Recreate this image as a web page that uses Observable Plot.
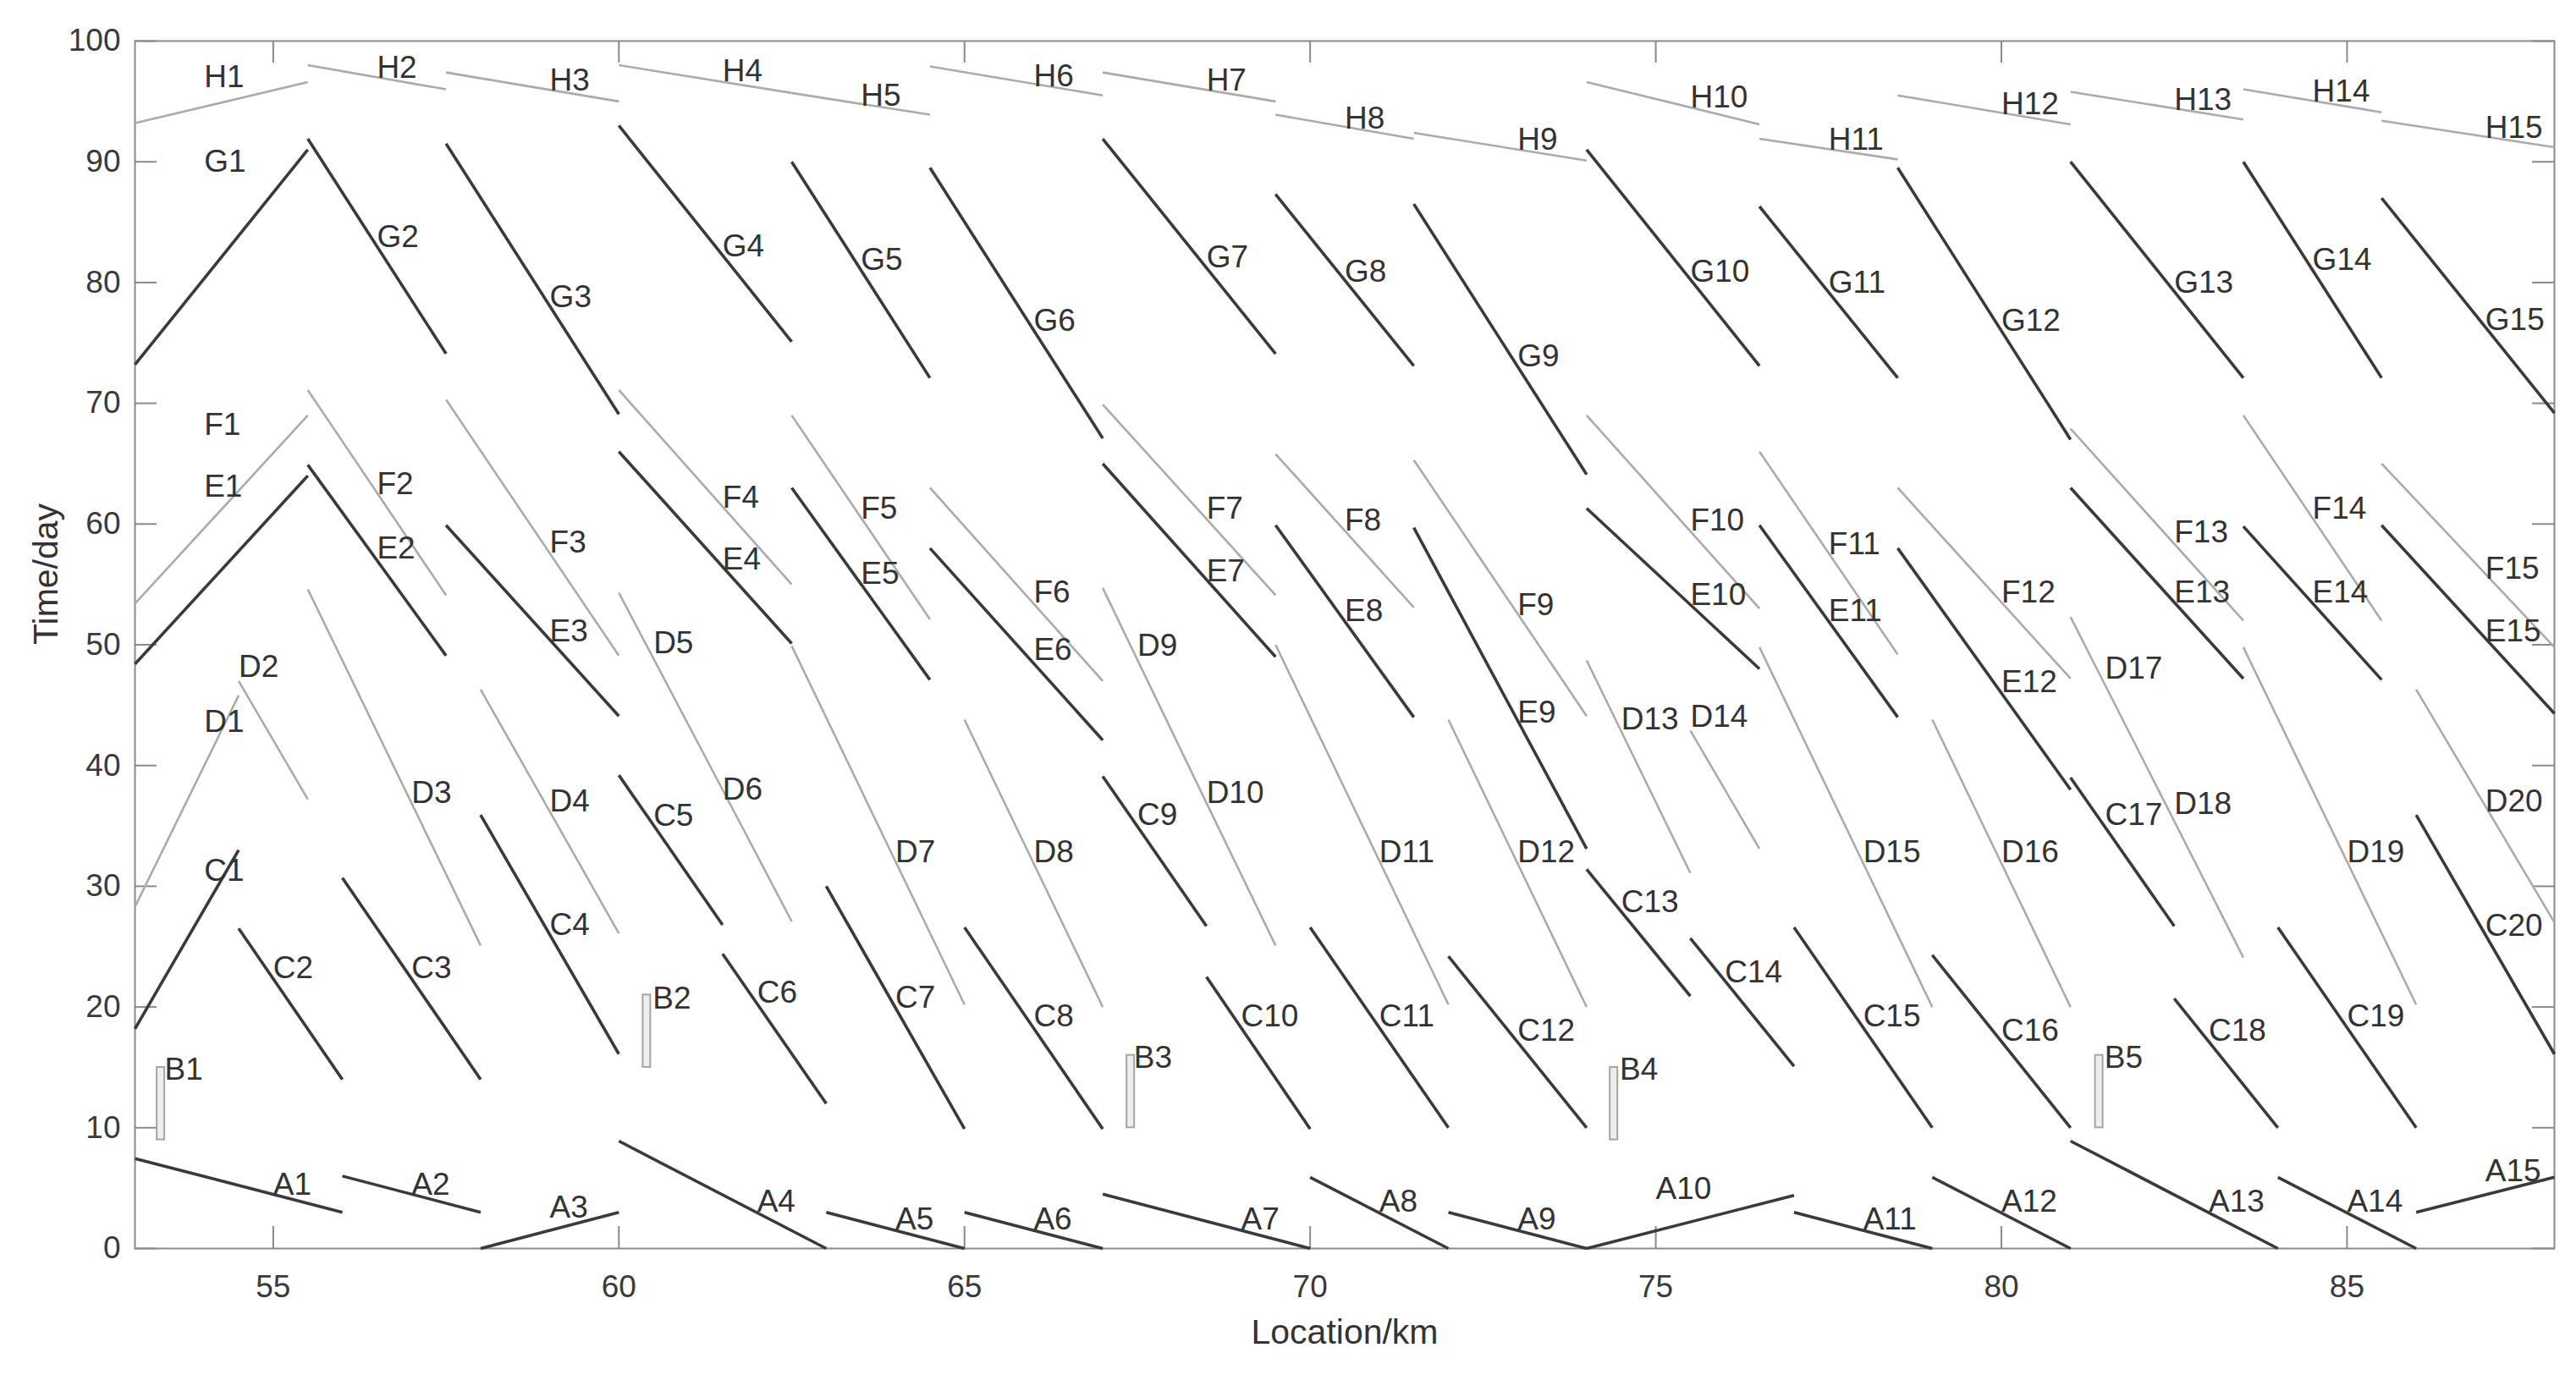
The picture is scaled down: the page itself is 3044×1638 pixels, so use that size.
<!DOCTYPE html>
<html>
<head>
<meta charset="utf-8">
<script src="https://cdn.jsdelivr.net/npm/d3@7"></script>
<script src="https://cdn.jsdelivr.net/npm/@observablehq/plot@0.6"></script>
<style>
  html, body { margin: 0; padding: 0; background: #fff; }
  #chart svg { display: block; }
</style>
</head>
<body>
<div id="chart"></div>
<script>
// ---- Data (km, day). Each segment: [x1, y1, x2, y2]; each label: [x, y] ----
const segA = [[53,7.45,56,3],[56,6,58,3],[58,0,60,3],[60,8.9,63,0],[63,3,65,0],[65,3,67,0],[67,4.5,70,0],[70,5.9,72,0],[72,3,74,0],[74,0,77,4.4],[77,3,79,0],[79,5.9,81,0],[81,8.9,84,0],[84,5.9,86,0],[86,3,88,5.9]];
const labA = [[55,5.3],[57,5.3],[59,3.4],[62,3.9],[64,2.4],[66,2.4],[69,2.4],[71,3.9],[73,2.4],[75,4.9],[78,2.4],[80,3.9],[83,3.9],[85,3.9],[87,6.4]];

// B: narrow bars [x1, x2, y1, y2]
const segB = [[53.32,53.43,9,15],[60.35,60.46,15,21],[67.35,67.46,10,16],[74.34,74.45,9,15],[81.36,81.47,10,16]];
const labB = [[53.43,14.8],[60.49,20.7],[67.45,15.8],[74.48,14.8],[81.49,15.8]];

const segC = [[53,18.2,54.5,33.0],[54.5,26.5,56,14.0],[56,30.7,58,14.0],[58,35.9,60,16.1],[60,39.2,61.5,26.8],[61.5,24.4,63,12.0],[63,30.0,65,9.9],[65,26.6,67,9.9],[67,39.1,68.5,26.7],[68.5,22.5,70,9.9],[70,26.6,72,10.0],[72,24.2,74,10.0],[74,31.4,75.5,20.9],[75.5,25.7,77,15.1],[77,26.6,79,10.0],[79,24.3,81,10.0],[81,39.0,82.5,26.7],[82.5,20.7,84,10.0],[84,26.6,86,10.0],[86,35.9,88,16.1]];
const labC = [[54,31.3],[55,23.2],[57,23.2],[59,26.8],[60.5,35.8],[62,21.2],[64,20.8],[66,19.2],[67.5,35.9],[69,19.2],[71,19.2],[73,18.0],[74.5,28.7],[76,22.9],[78,19.2],[80,18.0],[81.5,35.9],[83,18.0],[85,19.2],[87,26.7]];

const segD = [[53,28.3,54.5,45.8],[54.5,47.0,55.5,37.2],[55.5,54.6,58,25.1],[58,46.3,60,26.1],[60,54.3,61.5,38.0],[61.5,38.0,62.5,27.1],[62.5,49.9,65,20.2],[65,43.8,67,20.0],[67,54.7,68.5,36.9],[68.5,36.9,69.5,25.1],[69.5,50.0,72,20.2],[72,43.8,74,20.0],[74,48.7,75.5,31.1],[75.5,42.9,76.5,33.1],[76.5,49.8,79,20.0],[79,43.8,81,20.0],[81,52.3,82.5,35.4],[82.5,35.4,83.5,24.1],[83.5,49.8,86,20.2],[86,46.3,88,27.0]];
const labD = [[54,43.6],[54.5,48.2],[57,37.7],[59,37.0],[60.5,50.1],[61.5,38.0],[64,32.8],[66,32.8],[67.5,49.9],[68.5,37.7],[71,32.8],[73,32.8],[74.5,43.8],[75.5,44.0],[78,32.8],[80,32.8],[81.5,48.0],[82.5,36.8],[85,32.8],[87,37.0]];

const segE = [[53,48.4,55.5,64.0],[55.5,64.9,57.5,49.1],[57.5,59.9,60,44.1],[60,66.0,62.5,50.1],[62.5,63.0,64.5,47.1],[64.5,58.0,67,42.1],[67,65.0,69.5,49.0],[69.5,59.9,71.5,44.0],[71.5,59.7,74,33.1],[74,61.3,76.5,48.0],[76.5,59.9,78.5,44.0],[78.5,58.0,81,38.0],[81,63.0,83.5,47.2],[83.5,59.8,85.5,47.1],[85.5,59.9,88,44.3]];
const labE = [[54,63.1],[56.5,58.0],[59,51.1],[61.5,57.1],[63.5,55.9],[66,49.6],[68.5,56.1],[70.5,52.8],[73,44.4],[75.5,54.1],[77.5,52.8],[80,46.9],[82.5,54.3],[84.5,54.3],[87,51.1]];

const segF = [[53,53.4,55.5,69.0],[55.5,71.1,57.5,54.1],[57.5,70.3,60,49.1],[60,71.1,62.5,55.0],[62.5,69.0,64.5,52.1],[64.5,63.0,67,47.0],[67,69.9,69.5,54.1],[69.5,65.8,71.5,53.1],[71.5,65.3,74,44.1],[74,69.0,76.5,53.0],[76.5,66.0,78.5,49.2],[78.5,63.0,81,47.2],[81,67.9,83.5,52.0],[83.5,69.0,85.5,52.0],[85.5,65.0,88,49.8]];
const labF = [[54,68.2],[56.5,63.3],[59,58.5],[61.5,62.2],[63.5,61.3],[66,54.3],[68.5,61.3],[70.5,60.3],[73,53.3],[75.5,60.3],[77.5,58.3],[80,54.3],[82.5,59.3],[84.5,61.3],[87,56.3]];

const segG = [[53,73.2,55.5,91.0],[55.5,91.9,57.5,74.1],[57.5,91.5,60,69.1],[60,93.0,62.5,75.1],[62.5,90.0,64.5,72.1],[64.5,89.5,67,67.1],[67,91.9,69.5,74.1],[69.5,87.3,71.5,73.1],[71.5,86.5,74,64.1],[74,91.0,76.5,73.1],[76.5,86.3,78.5,72.1],[78.5,89.5,81,67.0],[81,90.0,83.5,72.1],[83.5,90.0,85.5,72.1],[85.5,87.0,88,69.2]];
const labG = [[54,90.0],[56.5,83.8],[59,78.8],[61.5,83.0],[63.5,81.9],[66,76.8],[68.5,82.1],[70.5,80.9],[73,73.9],[75.5,80.9],[77.5,80.0],[80,76.8],[82.5,80.0],[84.5,81.9],[87,76.9]];

const segH = [[53,93.2,55.5,96.6],[55.5,98.0,57.5,96.0],[57.5,97.4,60,95.0],[60,98.0,62.5,95.7],[62.5,95.7,64.5,93.9],[64.5,97.9,67,95.5],[67,97.4,69.5,95.0],[69.5,93.9,71.5,91.9],[71.5,92.4,74,90.1],[74,96.6,76.5,93.1],[76.5,91.9,78.5,90.2],[78.5,95.5,81,93.1],[81,95.8,83.5,93.5],[83.5,96.0,85.5,94.1],[85.5,93.4,88,91.2]];
const labH = [[54,97.0],[56.5,97.8],[59,96.7],[61.5,97.5],[63.5,95.5],[66,97.1],[68.5,96.7],[70.5,93.6],[73,91.8],[75.5,95.3],[77.5,91.8],[80,94.8],[82.5,95.1],[84.5,95.8],[87,92.8]];

const xTicks = [55, 60, 65, 70, 75, 80, 85];
const yTicks = [0, 10, 20, 30, 40, 50, 60, 70, 80, 90, 100];
const xTitle = "Location/km";
const yTitle = "Time/day";

// ---- Build tables ----
const toRows = (segs, prefix) => segs.map((s, i) => ({name: prefix + (i + 1), x1: s[0], y1: s[1], x2: s[2], y2: s[3]}));
const toLabels = (labs, prefix) => labs.map((l, i) => ({name: prefix + (i + 1), x: l[0], y: l[1]}));

const dark = [...toRows(segA, "A"), ...toRows(segC, "C"), ...toRows(segE, "E"), ...toRows(segG, "G")];
const light = [...toRows(segD, "D"), ...toRows(segF, "F"), ...toRows(segH, "H")];
const bars = segB.map((b, i) => ({name: "B" + (i + 1), x1: b[0], x2: b[1], y1: b[2], y2: b[3]}));
const labels = [
  ...toLabels(labA, "A"), ...toLabels(labB, "B"), ...toLabels(labC, "C"), ...toLabels(labD, "D"),
  ...toLabels(labE, "E"), ...toLabels(labF, "F"), ...toLabels(labG, "G"), ...toLabels(labH, "H")
];

const W = 3044, H = 1638;
const mL = 159, mR = 26, mT = 48, mB = 163;
const plotW = W - mL - mR, plotH = H - mT - mB;
const tickLen = 26;
const axisColor = "#8a8a8a";
const textColor = "#333";

const chart = Plot.plot({
  width: W,
  height: H,
  marginLeft: mL,
  marginRight: mR,
  marginTop: mT,
  marginBottom: mB,
  style: {fontFamily: "'Liberation Sans', Arial, Helvetica, sans-serif", background: "#fff"},
  x: {domain: [53, 88]},
  y: {domain: [0, 100]},
  marks: [
    Plot.frame({stroke: axisColor, strokeWidth: 2}),
    // inward ticks on all four sides
    Plot.tickX(xTicks, {x: d => d, insetTop: plotH - tickLen, stroke: axisColor, strokeWidth: 2}),
    Plot.tickX(xTicks, {x: d => d, insetBottom: plotH - tickLen, stroke: axisColor, strokeWidth: 2}),
    Plot.tickY(yTicks, {y: d => d, insetRight: plotW - tickLen, stroke: axisColor, strokeWidth: 2}),
    Plot.tickY(yTicks, {y: d => d, insetLeft: plotW - tickLen, stroke: axisColor, strokeWidth: 2}),
    Plot.axisX(xTicks, {tickSize: 0, tickPadding: 31, fontSize: 37, fill: "#3a3a3a", label: null}),
    Plot.axisY(yTicks, {tickSize: 0, tickPadding: 17, fontSize: 37, fill: "#3a3a3a", label: null}),
    Plot.link(light, {x1: "x1", y1: "y1", x2: "x2", y2: "y2", stroke: "#ababab", strokeWidth: 2.6}),
    Plot.link(dark, {x1: "x1", y1: "y1", x2: "x2", y2: "y2", stroke: "#3a3a3a", strokeWidth: 3.6}),
    Plot.rect(bars, {x1: "x1", x2: "x2", y1: "y1", y2: "y2", stroke: "#a5a5a5", strokeWidth: 2, fill: "#eeeeee"}),
    Plot.text(labels, {x: "x", y: "y", text: "name", textAnchor: "start", fontSize: 37, fill: textColor}),
    Plot.text([xTitle], {text: d => d, frameAnchor: "bottom", dy: 112, fontSize: 41, fill: textColor}),
    Plot.text([yTitle], {text: d => d, frameAnchor: "left", rotate: -90, dx: -105, fontSize: 41, fill: textColor})
  ]
});

document.getElementById("chart").appendChild(chart);
</script>
</body>
</html>
